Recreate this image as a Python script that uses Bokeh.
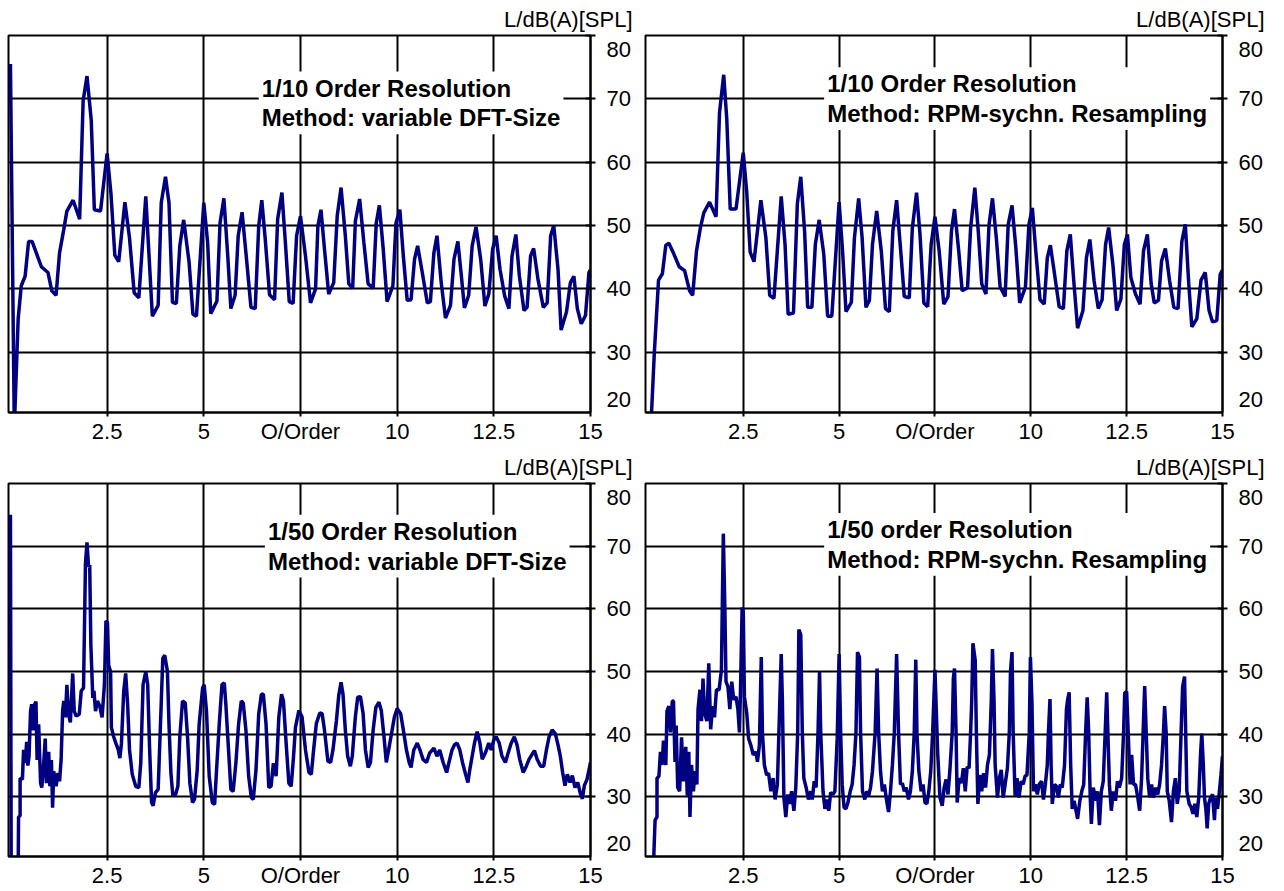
from bokeh.plotting import figure
from bokeh.layouts import column, row
from bokeh.models import Range1d, FixedTicker, Label, LinearAxis
from bokeh.embed import file_html
from bokeh.resources import INLINE

FONT = "Liberation Sans"

# ---------------- data ----------------
x_ticks = [2.5, 5, 7.5, 10, 12.5, 15]
x_tick_labels = {7.5: "O/Order"}
y_ticks = [20, 30, 40, 50, 60, 70, 80]
# the end labels 80 / 20 sit a little inside the frame, as in the original
y_label_pos = [22.6, 30, 40, 50, 60, 70, 77.8]
y_label_text = {22.6: "20", 77.8: "80"}
y_title = "L/dB(A)[SPL]"

notes = [
    "1/10 Order Resolution\nMethod: variable DFT-Size",
    "1/10 Order Resolution\nMethod: RPM-sychn. Resampling",
    "1/50 Order Resolution\nMethod: variable DFT-Size",
    "1/50 order Resolution\nMethod: RPM-sychn. Resampling",
]

# 1/10 order, variable DFT-size
tl_order = [0.0, 0.1, 0.2, 0.28, 0.38, 0.47, 0.56, 0.68, 0.8, 0.97, 1.07, 1.18, 1.27, 1.38, 1.46, 1.62, 1.79, 1.88, 1.98, 2.09,
            2.17, 2.33, 2.5, 2.6, 2.7, 2.8, 2.96, 3.08, 3.2, 3.32, 3.5, 3.67, 3.82, 3.9, 4.01, 4.1, 4.19, 4.29, 4.38, 4.48,
            4.62, 4.72, 4.81, 5.0, 5.1, 5.18, 5.34, 5.42, 5.52, 5.62, 5.7, 5.81, 5.89, 5.99, 6.09, 6.22, 6.33, 6.42, 6.5, 6.59,
            6.7, 6.83, 6.91, 7.02, 7.11, 7.21, 7.31, 7.4, 7.5, 7.63, 7.76, 7.89, 7.95, 8.03, 8.13, 8.23, 8.36, 8.45, 8.55, 8.66,
            8.75, 8.85, 8.92, 9.03, 9.14, 9.25, 9.38, 9.46, 9.54, 9.64, 9.74, 9.89, 9.97, 10.07, 10.16, 10.26, 10.36, 10.45, 10.53, 10.65,
            10.78, 10.86, 10.95, 11.03, 11.14, 11.25, 11.38, 11.47, 11.57, 11.66, 11.74, 11.85, 11.94, 12.04, 12.16, 12.27, 12.37, 12.47, 12.56, 12.66,
            12.78, 12.89, 12.97, 13.07, 13.16, 13.28, 13.36, 13.45, 13.53, 13.64, 13.78, 13.88, 13.97, 14.05, 14.16, 14.24, 14.38, 14.48, 14.57, 14.66,
            14.76, 14.87, 14.96, 15.0]
tl_level = [75.5, 18.0, 35.3, 40.5, 42.0, 47.5, 47.5, 45.5, 43.5, 42.6, 39.7, 39.0, 45.7, 49.4, 52.3, 54.0, 51.0, 69.7, 73.6, 66.6,
            52.5, 52.3, 61.4, 55.0, 45.3, 44.3, 53.7, 48.0, 39.4, 38.6, 54.6, 35.7, 37.4, 53.6, 57.7, 53.6, 37.9, 37.7, 46.8, 50.9,
            44.2, 36.0, 35.7, 53.6, 47.3, 36.1, 38.1, 50.4, 54.3, 45.2, 36.9, 39.0, 48.4, 52.1, 45.7, 37.1, 36.9, 49.9, 54.0, 47.8,
            39.1, 38.3, 51.0, 55.2, 47.3, 38.0, 37.7, 48.4, 51.5, 45.2, 37.8, 40.0, 49.9, 52.5, 45.7, 39.2, 41.0, 51.5, 56.0, 48.4,
            40.8, 40.1, 50.7, 54.2, 47.3, 40.8, 40.1, 50.4, 53.2, 46.3, 38.0, 40.5, 50.4, 52.5, 45.2, 38.2, 38.3, 44.7, 46.8, 42.6,
            37.8, 38.0, 45.7, 48.4, 41.0, 35.4, 37.4, 44.7, 47.5, 42.1, 37.0, 39.0, 46.8, 49.8, 44.7, 37.3, 39.2, 46.3, 48.4, 43.1,
            38.9, 36.9, 45.2, 48.6, 42.1, 36.6, 37.1, 45.2, 46.4, 41.6, 37.1, 37.8, 48.4, 50.0, 43.1, 33.5, 36.4, 41.0, 42.0, 36.9,
            34.5, 35.8, 42.6, 43.0]

# 1/10 order, RPM-synchronous resampling
tr_order = [0.1, 0.18, 0.29, 0.39, 0.48, 0.56, 0.69, 0.83, 0.97, 1.1, 1.18, 1.28, 1.38, 1.47, 1.62, 1.79, 1.88, 1.99, 2.07, 2.16,
            2.31, 2.5, 2.59, 2.68, 2.78, 2.96, 3.09, 3.19, 3.3, 3.49, 3.59, 3.67, 3.81, 3.91, 4.0, 4.1, 4.18, 4.29, 4.38, 4.48,
            4.6, 4.7, 4.81, 5.0, 5.09, 5.18, 5.32, 5.4, 5.51, 5.6, 5.7, 5.79, 5.87, 5.98, 6.1, 6.21, 6.31, 6.4, 6.5, 6.6,
            6.7, 6.83, 6.91, 7.02, 7.11, 7.21, 7.31, 7.4, 7.5, 7.61, 7.73, 7.84, 7.93, 8.01, 8.12, 8.21, 8.35, 8.43, 8.54, 8.63,
            8.72, 8.83, 8.91, 9.0, 9.1, 9.2, 9.33, 9.41, 9.51, 9.61, 9.71, 9.86, 9.95, 10.04, 10.13, 10.24, 10.35, 10.43, 10.51, 10.62,
            10.74, 10.85, 10.94, 11.03, 11.12, 11.22, 11.36, 11.45, 11.54, 11.65, 11.76, 11.86, 11.95, 12.03, 12.14, 12.24, 12.35, 12.44, 12.52, 12.61,
            12.73, 12.85, 12.94, 13.04, 13.14, 13.22, 13.33, 13.41, 13.51, 13.62, 13.73, 13.84, 13.94, 14.03, 14.12, 14.2, 14.33, 14.44, 14.55, 14.65,
            14.74, 14.85, 14.94, 15.0]
tr_level = [19.5, 29.9, 41.4, 42.4, 46.9, 47.2, 45.5, 43.5, 42.9, 39.7, 39.0, 46.0, 49.6, 52.0, 53.7, 51.4, 67.8, 73.8, 66.8, 52.6,
            52.6, 61.5, 55.3, 45.8, 44.3, 54.0, 48.1, 39.0, 38.5, 54.6, 47.0, 36.0, 36.2, 53.4, 57.7, 49.1, 37.1, 37.1, 47.0, 50.9,
            45.5, 35.7, 35.7, 53.7, 46.0, 36.4, 37.9, 48.1, 54.3, 48.1, 37.1, 38.2, 47.0, 52.3, 46.0, 36.9, 36.4, 49.1, 54.0, 46.5,
            38.8, 38.6, 49.6, 55.2, 48.6, 37.8, 37.2, 47.0, 51.4, 46.0, 37.6, 38.8, 49.1, 52.6, 46.0, 39.7, 40.2, 49.6, 56.0, 49.1,
            40.8, 39.2, 50.1, 54.3, 48.1, 40.3, 38.8, 50.1, 53.2, 46.5, 37.8, 40.3, 50.1, 52.8, 46.0, 38.3, 37.6, 44.9, 46.9, 42.3,
            37.2, 36.9, 46.0, 48.6, 41.3, 33.8, 36.6, 44.9, 47.8, 41.3, 36.9, 38.3, 47.0, 49.7, 43.9, 36.6, 38.4, 47.0, 48.6, 41.8,
            39.2, 37.6, 46.0, 48.6, 40.8, 37.8, 38.2, 44.4, 46.4, 41.3, 37.1, 36.9, 47.5, 50.2, 40.8, 34.0, 35.3, 41.4, 42.6, 36.6,
            34.8, 35.0, 42.3, 43.0]

# 1/50 order, variable DFT-size
bl_order = [0.0, 0.02, 0.2, 0.21, 0.25, 0.25, 0.31, 0.34, 0.38, 0.42, 0.45, 0.48, 0.52, 0.55, 0.59, 0.61, 0.66, 0.69, 0.73, 0.78,
            0.81, 0.85, 0.9, 0.93, 0.99, 1.02, 1.06, 1.09, 1.12, 1.18, 1.23, 1.27, 1.31, 1.35, 1.38, 1.42, 1.46, 1.5, 1.55, 1.61,
            1.65, 1.7, 1.78, 1.83, 1.89, 1.94, 1.98, 2.02, 2.05, 2.08, 2.13, 2.16, 2.2, 2.25, 2.31, 2.37, 2.43, 2.47, 2.51, 2.54,
            2.59, 2.61, 2.67, 2.73, 2.79, 2.83, 2.87, 2.93, 2.98, 3.03, 3.08, 3.15, 3.24, 3.32, 3.37, 3.43, 3.5, 3.55, 3.6, 3.65,
            3.69, 3.75, 3.82, 3.88, 3.94, 3.99, 4.06, 4.1, 4.15, 4.2, 4.27, 4.33, 4.38, 4.45, 4.52, 4.58, 4.64, 4.71, 4.76, 4.83,
            4.88, 4.97, 5.01, 5.07, 5.14, 5.22, 5.28, 5.33, 5.4, 5.47, 5.53, 5.57, 5.64, 5.7, 5.76, 5.83, 5.9, 5.97, 6.02, 6.09,
            6.16, 6.23, 6.28, 6.35, 6.42, 6.49, 6.54, 6.61, 6.68, 6.74, 6.8, 6.87, 6.94, 7.01, 7.06, 7.13, 7.2, 7.26, 7.32, 7.37,
            7.46, 7.54, 7.63, 7.72, 7.78, 7.84, 7.91, 8.0, 8.06, 8.12, 8.21, 8.28, 8.34, 8.43, 8.49, 8.55, 8.6, 8.66, 8.72, 8.79,
            8.84, 8.92, 8.98, 9.05, 9.12, 9.18, 9.25, 9.31, 9.38, 9.45, 9.53, 9.59, 9.66, 9.72, 9.78, 9.84, 9.93, 10.0, 10.09, 10.16,
            10.24, 10.31, 10.36, 10.43, 10.52, 10.59, 10.67, 10.76, 10.84, 10.95, 11.03, 11.1, 11.19, 11.28, 11.34, 11.42, 11.48, 11.55, 11.62, 11.69,
            11.77, 11.83, 11.88, 11.94, 12.0, 12.07, 12.14, 12.2, 12.28, 12.37, 12.43, 12.5, 12.56, 12.64, 12.71, 12.8, 12.87, 12.95, 13.03, 13.1,
            13.17, 13.26, 13.34, 13.41, 13.49, 13.55, 13.62, 13.71, 13.79, 13.86, 13.93, 14.01, 14.09, 14.16, 14.22, 14.28, 14.34, 14.4, 14.47, 14.53,
            14.6, 14.67, 14.74, 14.79, 14.84, 14.91, 14.98, 15.0]
bl_level = [75.0, 18.0, 18.0, 26.8, 27.0, 33.0, 32.8, 37.5, 35.4, 38.8, 35.0, 36.4, 43.7, 44.8, 40.6, 44.5, 45.2, 35.9, 41.6, 32.2,
            31.5, 34.3, 39.3, 32.2, 37.2, 31.7, 35.9, 28.3, 34.1, 31.7, 33.8, 32.5, 35.9, 43.7, 45.3, 42.7, 47.9, 43.2, 41.9, 49.7,
            43.7, 42.9, 43.2, 46.9, 47.4, 67.2, 70.6, 66.7, 67.0, 54.2, 45.8, 46.9, 43.7, 45.3, 44.5, 42.7, 47.9, 58.1, 57.8, 51.0,
            50.0, 41.1, 39.6, 38.5, 37.5, 36.2, 38.5, 46.9, 49.7, 44.8, 37.5, 33.6, 31.7, 31.5, 35.4, 47.9, 50.0, 47.9, 37.5, 29.1,
            28.6, 30.7, 31.2, 41.6, 52.1, 52.6, 50.0, 41.6, 33.8, 30.2, 30.4, 31.7, 39.6, 45.3, 45.0, 39.6, 32.2, 29.1, 29.6, 34.3,
            41.6, 47.4, 47.9, 43.7, 33.3, 29.1, 28.8, 34.3, 41.6, 47.9, 48.2, 44.8, 37.5, 31.2, 30.9, 35.4, 41.6, 45.3, 45.0, 40.6,
            33.3, 29.9, 29.6, 34.3, 43.2, 46.4, 46.4, 41.6, 31.5, 31.7, 35.4, 33.3, 42.7, 46.4, 45.3, 38.5, 32.2, 31.7, 36.4, 41.1,
            43.8, 42.8, 37.5, 33.9, 33.6, 37.5, 41.7, 43.4, 43.3, 40.7, 35.7, 35.5, 37.5, 42.2, 46.2, 48.3, 46.4, 40.7, 36.5, 34.9,
            36.5, 42.8, 45.9, 46.0, 43.3, 37.5, 34.7, 35.5, 40.7, 44.3, 45.1, 43.8, 39.6, 35.5, 37.5, 39.6, 42.8, 44.1, 43.3, 40.7,
            37.5, 35.5, 34.7, 37.5, 38.6, 37.5, 36.0, 35.5, 37.0, 37.8, 36.5, 37.5, 35.5, 33.9, 35.5, 37.5, 38.3, 38.6, 37.5, 35.5,
            33.6, 32.3, 34.4, 36.5, 38.6, 40.4, 38.6, 36.0, 37.0, 38.6, 37.5, 39.1, 39.6, 38.6, 36.5, 35.5, 37.0, 38.6, 39.6, 38.3,
            36.0, 33.9, 34.9, 36.0, 36.8, 37.4, 36.0, 34.9, 34.9, 37.5, 39.6, 40.7, 40.1, 38.3, 36.5, 33.9, 31.8, 33.6, 32.3, 33.4,
            31.5, 32.3, 30.5, 29.7, 31.8, 32.8, 34.9, 35.5]

# 1/50 order, RPM-synchronous resampling
br_order = [0.16, 0.2, 0.25, 0.25, 0.3, 0.34, 0.38, 0.42, 0.48, 0.51, 0.56, 0.6, 0.65, 0.68, 0.72, 0.75, 0.79, 0.84, 0.89, 0.94,
            1.0, 1.04, 1.08, 1.11, 1.15, 1.2, 1.24, 1.29, 1.32, 1.37, 1.41, 1.45, 1.49, 1.55, 1.6, 1.65, 1.7, 1.75, 1.8, 1.87,
            1.93, 1.98, 2.02, 2.05, 2.1, 2.15, 2.2, 2.25, 2.31, 2.36, 2.4, 2.43, 2.47, 2.5, 2.53, 2.59, 2.64, 2.7, 2.76, 2.83,
            2.87, 2.92, 2.97, 3.0, 3.05, 3.11, 3.16, 3.22, 3.28, 3.33, 3.39, 3.43, 3.49, 3.52, 3.56, 3.61, 3.66, 3.71, 3.76, 3.82,
            3.87, 3.92, 3.95, 4.0, 4.04, 4.08, 4.14, 4.2, 4.26, 4.3, 4.35, 4.4, 4.45, 4.49, 4.52, 4.58, 4.63, 4.69, 4.73, 4.78,
            4.84, 4.89, 4.95, 5.0, 5.04, 5.08, 5.13, 5.18, 5.23, 5.29, 5.34, 5.39, 5.44, 5.48, 5.53, 5.56, 5.61, 5.67, 5.72, 5.77,
            5.82, 5.87, 5.94, 5.99, 6.03, 6.08, 6.13, 6.18, 6.24, 6.29, 6.34, 6.39, 6.44, 6.5, 6.55, 6.6, 6.65, 6.7, 6.75, 6.81,
            6.86, 6.91, 6.96, 7.0, 7.03, 7.08, 7.14, 7.19, 7.24, 7.29, 7.34, 7.39, 7.44, 7.5, 7.57, 7.63, 7.69, 7.74, 7.79, 7.84,
            7.89, 7.95, 7.98, 8.01, 8.05, 8.08, 8.13, 8.19, 8.24, 8.29, 8.34, 8.39, 8.43, 8.46, 8.49, 8.55, 8.58, 8.62, 8.67, 8.72,
            8.77, 8.82, 8.87, 8.92, 8.97, 9.0, 9.04, 9.07, 9.13, 9.18, 9.23, 9.28, 9.33, 9.39, 9.44, 9.47, 9.51, 9.54, 9.59, 9.64,
            9.69, 9.75, 9.8, 9.85, 9.9, 9.96, 9.99, 10.03, 10.07, 10.12, 10.17, 10.22, 10.28, 10.33, 10.38, 10.43, 10.46, 10.5, 10.53, 10.56,
            10.62, 10.67, 10.72, 10.77, 10.82, 10.88, 10.93, 10.96, 11.0, 11.04, 11.08, 11.13, 11.18, 11.22, 11.28, 11.33, 11.38, 11.43, 11.47, 11.51,
            11.55, 11.58, 11.63, 11.69, 11.74, 11.79, 11.84, 11.89, 11.94, 11.98, 12.01, 12.05, 12.1, 12.15, 12.21, 12.26, 12.31, 12.37, 12.42, 12.45,
            12.5, 12.54, 12.59, 12.63, 12.68, 12.73, 12.79, 12.84, 12.89, 12.93, 12.97, 13.01, 13.05, 13.1, 13.15, 13.2, 13.26, 13.31, 13.36, 13.41,
            13.46, 13.49, 13.53, 13.56, 13.61, 13.67, 13.72, 13.77, 13.82, 13.87, 13.92, 13.96, 14.01, 14.04, 14.07, 14.13, 14.18, 14.23, 14.28, 14.33,
            14.38, 14.43, 14.46, 14.5, 14.53, 14.57, 14.6, 14.64, 14.69, 14.74, 14.79, 14.82, 14.87, 14.92, 14.96, 15.0]
br_level = [19.5, 26.3, 26.8, 33.0, 33.3, 37.2, 35.1, 39.0, 35.1, 43.7, 44.5, 40.3, 45.3, 45.3, 35.6, 41.4, 31.5, 30.9, 39.5, 32.5,
            38.0, 30.2, 37.2, 26.8, 35.1, 30.9, 34.1, 32.0, 44.0, 47.1, 42.1, 48.9, 43.4, 42.1, 51.3, 40.8, 44.5, 42.7, 47.1, 47.1,
            50.2, 72.0, 60.1, 48.4, 47.6, 44.0, 48.4, 45.5, 46.0, 44.0, 40.3, 47.6, 60.2, 59.6, 46.0, 43.4, 39.3, 38.2, 36.7, 37.2,
            35.6, 38.2, 52.3, 40.3, 35.1, 33.5, 33.8, 30.9, 33.0, 29.6, 32.0, 40.3, 52.8, 45.5, 29.9, 26.8, 30.4, 28.9, 30.9, 27.8,
            31.5, 40.3, 56.7, 55.9, 40.3, 33.0, 31.5, 29.6, 30.9, 29.6, 32.5, 31.5, 40.3, 50.0, 40.3, 30.9, 28.1, 29.6, 27.8, 30.7,
            30.4, 30.9, 39.3, 52.8, 40.3, 32.0, 28.3, 28.1, 29.1, 30.9, 32.0, 35.1, 40.3, 53.1, 52.3, 40.3, 30.9, 29.6, 30.9, 30.2,
            31.5, 34.1, 40.3, 50.5, 40.3, 34.1, 30.9, 32.0, 29.4, 27.6, 30.9, 35.1, 40.3, 52.8, 40.3, 32.0, 32.2, 30.9, 31.5, 29.6,
            30.9, 34.1, 40.3, 51.9, 40.3, 34.1, 30.9, 32.0, 29.1, 28.9, 30.9, 34.1, 40.3, 50.3, 37.2, 29.9, 28.6, 31.5, 32.8, 30.4,
            34.3, 40.3, 48.9, 50.5, 40.3, 29.1, 33.0, 32.2, 34.6, 30.9, 34.8, 34.6, 40.3, 45.5, 54.5, 51.8, 40.3, 28.9, 33.5, 30.9,
            33.8, 31.5, 35.1, 36.7, 45.5, 53.6, 45.5, 35.1, 29.9, 33.0, 34.3, 29.9, 32.0, 34.6, 40.3, 50.0, 53.1, 40.3, 30.2, 33.0,
            29.9, 32.5, 32.0, 33.3, 33.5, 40.3, 52.3, 45.0, 30.9, 32.0, 30.4, 32.0, 32.5, 29.6, 32.0, 35.1, 40.3, 45.6, 35.1, 28.9,
            32.0, 31.7, 29.9, 32.0, 31.5, 35.1, 44.0, 45.5, 46.7, 35.1, 28.1, 29.4, 27.8, 26.5, 29.4, 30.9, 32.0, 40.3, 45.9, 40.3,
            29.9, 25.7, 31.5, 29.4, 30.9, 25.5, 30.9, 32.5, 40.3, 46.7, 40.3, 32.0, 27.8, 30.9, 29.4, 32.5, 31.5, 33.0, 40.3, 46.6,
            46.8, 40.3, 32.0, 36.7, 32.0, 32.0, 29.9, 27.8, 33.0, 40.3, 47.7, 40.3, 33.0, 29.9, 32.0, 29.9, 31.5, 30.4, 32.0, 35.1,
            40.3, 44.5, 40.3, 30.9, 29.4, 26.0, 30.9, 33.0, 28.9, 30.9, 40.3, 47.6, 49.2, 40.3, 30.9, 28.9, 28.4, 27.3, 28.9, 26.8,
            29.9, 37.2, 40.1, 35.1, 29.9, 27.8, 25.0, 28.9, 29.9, 30.4, 26.3, 29.9, 28.1, 30.9, 33.5, 36.5]


def make_panel(order, level, note, note_x, note_y, left_border, frame_w, right_border, top_border, frame_h):
    p = figure(frame_width=frame_w, frame_height=frame_h,
               x_range=Range1d(-0.05, 15.0), y_range=Range1d(20.5, 80.0),
               y_axis_location="right", output_backend="svg", toolbar_location=None,
               min_border_left=left_border, min_border_right=right_border,
               min_border_top=top_border, min_border_bottom=0,
               background_fill_color="white", border_fill_color="white",
               outline_line_color="black", outline_line_width=2,
               title=y_title)
    p.title.align = "right"
    p.title.offset = -42
    p.title.text_font = FONT
    p.title.text_font_size = "22px"
    p.title.text_font_style = "normal"
    p.title.text_color = "black"
    p.title.standoff = 8

    xa = p.xaxis[0]
    xa.ticker = FixedTicker(ticks=x_ticks)
    xa.major_label_overrides = x_tick_labels
    xa.major_label_text_font = FONT
    xa.major_label_text_font_size = "22px"
    xa.major_label_text_color = "black"
    xa.major_tick_in = 0
    xa.major_tick_out = 4
    xa.minor_tick_in = 0
    xa.minor_tick_out = 0
    xa.major_label_standoff = 2
    xa.axis_line_width = 2
    xa.major_tick_line_width = 2

    # right axis: line and tick marks only
    ya = p.yaxis[0]
    ya.ticker = FixedTicker(ticks=y_ticks)
    ya.major_label_overrides = {t: "" for t in y_ticks}
    ya.major_tick_in = 5
    ya.major_tick_out = 5
    ya.minor_tick_in = 0
    ya.minor_tick_out = 0
    ya.major_label_standoff = 0
    ya.axis_line_width = 2
    ya.major_tick_line_width = 2

    # second right axis carrying the level labels
    yl = LinearAxis(ticker=FixedTicker(ticks=y_label_pos), major_label_overrides=y_label_text,
                    axis_line_color=None, major_tick_line_color=None, minor_tick_line_color=None,
                    major_tick_in=0, major_tick_out=0, major_label_standoff=11,
                    major_label_text_font=FONT, major_label_text_font_size="22px",
                    major_label_text_color="black")
    p.add_layout(yl, "right")

    p.xgrid.ticker = FixedTicker(ticks=x_ticks[:-1])
    p.ygrid.ticker = FixedTicker(ticks=y_ticks[1:-1])
    for g in (p.xgrid[0], p.ygrid[0]):
        g.grid_line_color = "black"
        g.grid_line_width = 2

    p.line(order, level, line_color="#000080", line_width=3.5)

    p.add_layout(Label(x=note_x, y=note_y, text=note, text_font=FONT, text_font_size="24px",
                       text_font_style="bold", text_color="black", text_align="left",
                       text_line_height=1.1,
                       text_baseline="top", background_fill_color="white", padding=3))
    return p


p_tl = make_panel(tl_order, tl_level, notes[0], 6.42, 74.3, 8, 582, 50, 34, 377)
p_tr = make_panel(tr_order, tr_level, notes[1], 4.61, 75.0, 5, 577, 56, 34, 377)
p_bl = make_panel(bl_order, bl_level, notes[2], 6.58, 75.0, 8, 582, 50, 37, 373)
p_br = make_panel(br_order, br_level, notes[3], 4.61, 75.3, 5, 577, 56, 37, 373)

layout = column(row(p_tl, p_tr), row(p_bl, p_br))
open("out.html", "w").write(file_html(layout, INLINE))
